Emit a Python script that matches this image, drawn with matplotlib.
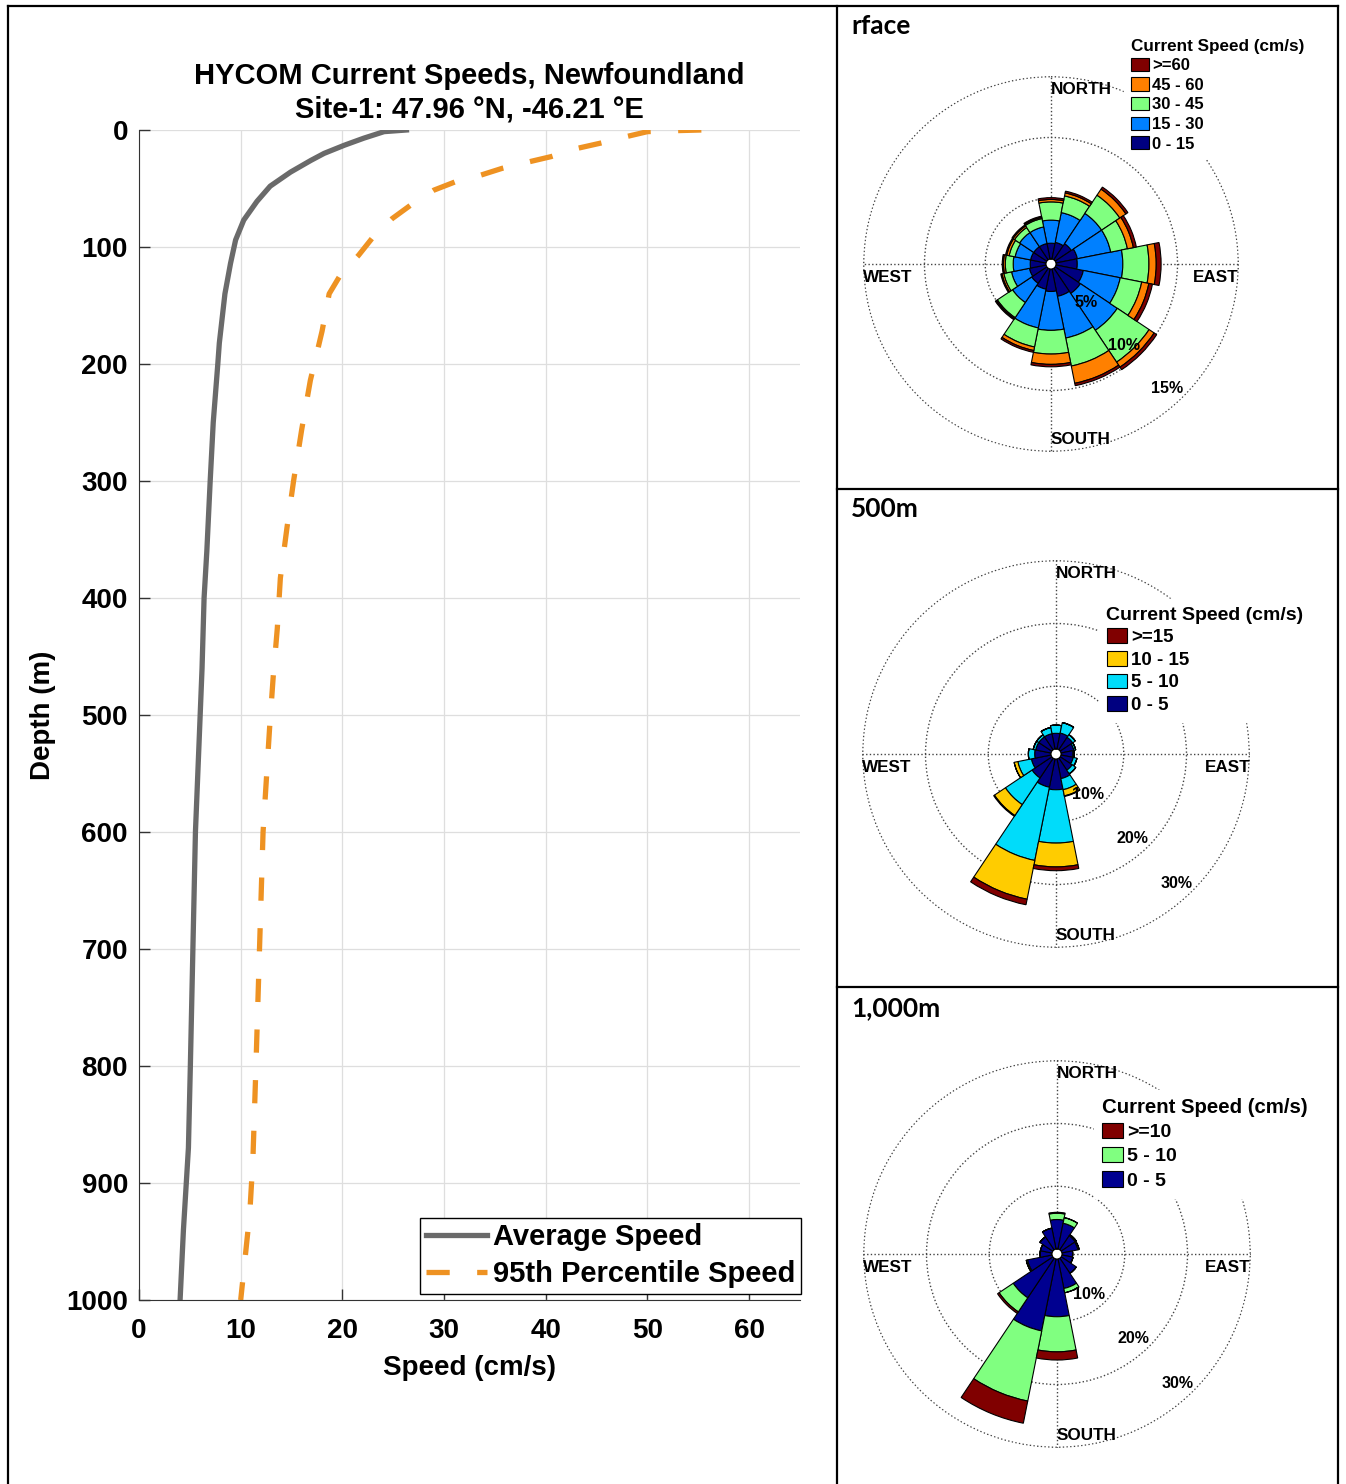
import numpy as np
import matplotlib.pyplot as plt
from matplotlib.lines import Line2D
from matplotlib.patches import Patch

plt.rcParams['font.family'] = ['Liberation Sans', 'DejaVu Sans']
plt.rcParams['font.weight'] = 'bold'
plt.rcParams['axes.labelweight'] = 'bold'

# ---- depth profile (HYCOM, Site-1) ----
avg_depth = [0, 1.4, 7, 13, 20, 26, 36, 48, 61, 77, 94, 114, 140, 182, 200, 250, 300,
             360, 400, 460, 525, 600, 700, 800, 870, 940, 1000]
avg_speed = [26.3, 24.1, 22.1, 20.2, 18.2, 16.9, 14.9, 12.9, 11.6, 10.3, 9.5, 9.0, 8.45,
             7.9, 7.75, 7.3, 7.0, 6.67, 6.4, 6.2, 5.9, 5.55, 5.3, 5.05, 4.86, 4.37, 4.04]

p95_depth = [0, 0.6, 1.4, 5.7, 11.4, 15.7, 22.8, 27.1, 32.8, 38.6, 44.3, 51.4, 64.3, 75.7,
             92.8, 107, 124, 140, 172, 214, 256, 300, 340, 383, 426, 467, 510, 600, 700,
             800, 880, 925, 967, 1000]
p95_speed = [55.3, 52.6, 50.0, 47.9, 45.3, 43.1, 40.5, 38.4, 35.7, 33.6, 31.1, 29.0, 26.7,
             24.9, 22.9, 21.6, 19.8, 18.7, 18.0, 16.85, 16.0, 15.2, 14.55, 13.9, 13.6, 13.2,
             12.85, 12.2, 11.85, 11.5, 11.2, 10.9, 10.4, 10.0]

# ---- current roses: % of time per direction (N, NNE, ... clockwise) and speed class ----
directions = np.arange(16) * 22.5

surf_labels = ['0 - 15', '15 - 30', '30 - 45', '45 - 60', '>=60']
surf_0_15 = [1.3, 1.4, 1.6, 1.8, 1.75, 2.3, 2.5, 2.3, 1.85, 1.7, 1.5, 1.4, 1.3, 1.3, 1.3, 1.3]
surf_15_30 = [1.9, 2.5, 3.0, 2.8, 3.75, 3.1, 3.65, 3.5, 3.2, 3.25, 1.9, 1.5, 1.4, 1.3, 1.4, 1.4]
surf_30_45 = [1.5, 1.4, 1.8, 1.4, 2.15, 1.8, 3.15, 2.35, 1.95, 1.6, 1.5, 0.65, 0.65, 0.5, 0.5, 0.7]
surf_45_60 = [0.2, 0.25, 0.6, 0.5, 0.6, 0.6, 0.5, 1.45, 0.85, 0.3, 0.1, 0.15, 0.15, 0.2, 0.15, 0.1]
surf_60 = [0.15, 0.15, 0.2, 0.25, 0.4, 0.3, 0.25, 0.2, 0.2, 0.15, 0.1, 0.1, 0.1, 0.1, 0.1, 0.1]

m500_labels = ['0 - 5', '5 - 10', '10 - 15', '>=15']
m500_0_5 = [2.5, 2.6, 2.4, 2.1, 1.9, 2.0, 2.3, 3.2, 4.9, 4.6, 3.8, 3.2, 2.6, 2.5, 2.5, 2.5]
m500_5_10 = [1.3, 1.7, 0.5, 0.3, 0.2, 0.6, 0.7, 1.8, 8.5, 11.9, 5.1, 2.2, 1.0, 0.4, 0.4, 1.0]
m500_10_15 = [0, 0, 0, 0, 0, 0, 0, 1.0, 3.8, 6.3, 2.1, 0.6, 0, 0, 0, 0]
m500_15 = [0, 0, 0, 0, 0, 0, 0, 0.1, 0.6, 0.9, 0.15, 0, 0, 0, 0, 0]

m1000_labels = ['0 - 5', '5 - 10', '>=10']
m1000_0_5 = [4.7, 4.2, 2.7, 2.6, 1.7, 1.8, 2.9, 4.8, 9.2, 11.7, 7.6, 4.0, 1.9, 1.9, 2.5, 3.4]
m1000_5_10 = [1.0, 0.9, 0.2, 0.2, 0, 0, 0, 0.7, 5.6, 11.4, 2.7, 0.2, 0, 0, 0, 0]
m1000_10 = [0.15, 0, 0, 0, 0, 0, 0, 0, 1.3, 3.6, 0.3, 0, 0, 0, 0, 0]

W, H = 1346, 1484
fig = plt.figure(figsize=(W / 100, H / 100), dpi=100)


def fx(px):
    return px / W


def fy(py):
    return 1 - py / H


# ---------------- left: speed profile ----------------
ax = fig.add_axes([fx(139), fy(1300), fx(800) - fx(139), fy(130) - fy(1300)])
ax.plot(avg_speed, avg_depth, color='#6a6a6a', lw=3.8, label='Average Speed')
ax.plot(p95_speed, p95_depth, color='#ee9222', lw=3.8, dashes=(4.4, 5.2),
        dash_capstyle='butt', label='95th Percentile Speed')
ax.set_xlim(0, 65)
ax.set_ylim(1000, 0)
ax.set_xticks(np.arange(0, 61, 10))
ax.set_yticks(np.arange(0, 1001, 100))
ax.grid(True, color='#dedede', lw=0.9)
ax.set_axisbelow(True)
ax.spines['top'].set_visible(False)
ax.spines['right'].set_visible(False)
for s in ['left', 'bottom']:
    ax.spines[s].set_color('#333333')
ax.tick_params(direction='in', length=8, width=1, labelsize=20, pad=8, color='#333333')
ax.tick_params(axis='x', pad=13)
ax.set_xlabel('Speed (cm/s)', fontsize=20, labelpad=8)
ax.set_ylabel('Depth (m)', fontsize=20, labelpad=7)
ax.set_title('HYCOM Current Speeds, Newfoundland\nSite-1: 47.96 °N, -46.21 °E',
             fontsize=21, fontweight='bold', pad=9, linespacing=1.25)
leg = ax.legend(loc='lower right', bbox_to_anchor=(fx(801), fy(1294)),
                bbox_transform=fig.transFigure, borderaxespad=0, fontsize=21,
                handlelength=2.1, handletextpad=0.2, borderpad=0.2, labelspacing=0.3,
                fancybox=False, framealpha=1, edgecolor='black')
leg.get_frame().set_linewidth(1.0)


# ---------------- right: current roses ----------------
def draw_rose(cx, cy, R, rings, bins, colors, labels, leg_xy, fs, tfs, lsp, title, title_y):
    rmax = rings[-1] * 1.004
    hole = rmax * 5 / (R - 5)
    rax = fig.add_axes([fx(cx - R), fy(cy + R), 2 * R / W, 2 * R / H], projection='polar')
    rax.set_theta_zero_location('N')
    rax.set_theta_direction(-1)
    theta = np.radians(directions)
    bottom = np.zeros(len(directions))
    for vals, col in zip(bins, colors):
        rax.bar(theta, vals, width=np.radians(22.5), bottom=bottom, color=col,
                edgecolor='black', linewidth=0.8, align='center')
        bottom = bottom + np.array(vals)
    rax.set_rorigin(-hole)
    rax.set_ylim(0, rmax)
    rax.set_rgrids(rings, labels=[''] * len(rings))
    rax.set_thetagrids([0, 90, 180, 270], labels=[''] * 4)
    rax.grid(True, color='#444444', linestyle=':', linewidth=1.0)
    rax.set_axisbelow(True)
    for s in rax.spines.values():
        s.set_visible(False)

    off = 13 / (2 * R)
    rax.text(0.5, 1 - off, 'NORTH', transform=rax.transAxes, ha='left', va='center', fontsize=12.3)
    rax.text(0.5, off, 'SOUTH', transform=rax.transAxes, ha='left', va='center', fontsize=12.3)
    rax.text(0.0, 0.5 - off, 'WEST', transform=rax.transAxes, ha='left', va='center', fontsize=12.3)
    rax.text(1.0, 0.5 - off, 'EAST', transform=rax.transAxes, ha='right', va='center', fontsize=12.3)
    for r in rings:
        rax.text(np.radians(135), r, f'{r}%', ha='right', va='bottom', fontsize=11.5, zorder=10)

    handles = [Patch(facecolor=c, edgecolor='black', linewidth=0.8) for c in colors][::-1]
    lg = rax.legend(handles, labels[::-1], title='Current Speed (cm/s)', loc='upper left',
                    bbox_to_anchor=(fx(leg_xy[0]), fy(leg_xy[1])), bbox_transform=fig.transFigure,
                    borderaxespad=0, fontsize=fs, title_fontsize=tfs, alignment='left',
                    handlelength=1.1, handleheight=0.85, handletextpad=0.2, labelspacing=lsp,
                    borderpad=0.4, fancybox=False, framealpha=1, edgecolor='white')
    lg.get_title().set_fontweight('bold')
    fig.text(fx(851), fy(title_y), title, fontfamily='Lato', fontweight='bold', fontsize=19,
             ha='left', va='center')


draw_rose(1051, 264, 188, [5, 10, 15],
          [surf_0_15, surf_15_30, surf_30_45, surf_45_60, surf_60],
          ['#000080', '#0080ff', '#80ff80', '#ff8000', '#800000'], surf_labels,
          (1124, 32), 12, 12.3, 0.25, 'rface', 26)
draw_rose(1056, 754, 194, [10, 20, 30],
          [m500_0_5, m500_5_10, m500_10_15, m500_15],
          ['#000080', '#00dcfa', '#ffcc00', '#800000'], m500_labels,
          (1099, 599), 13.5, 14, 0.25, '500m', 509)
draw_rose(1057, 1254, 194, [10, 20, 30],
          [m1000_0_5, m1000_5_10, m1000_10],
          ['#000090', '#80ff80', '#800000'], m1000_labels,
          (1094, 1090), 14, 14.7, 0.3, '1,000m', 1008)

# ---------------- table frame ----------------
frame = [((8, 8), (6, H)), ((1338, 1338), (6, H)), ((8, 1338), (6, 6)),
         ((837, 837), (6, H)), ((837, 1338), (489, 489)), ((837, 1338), (987, 987))]
for xs, ys in frame:
    fig.add_artist(Line2D([fx(x) for x in xs], [fy(y) for y in ys], color='black', lw=1.6))

fig.savefig('out.png', dpi=100)
